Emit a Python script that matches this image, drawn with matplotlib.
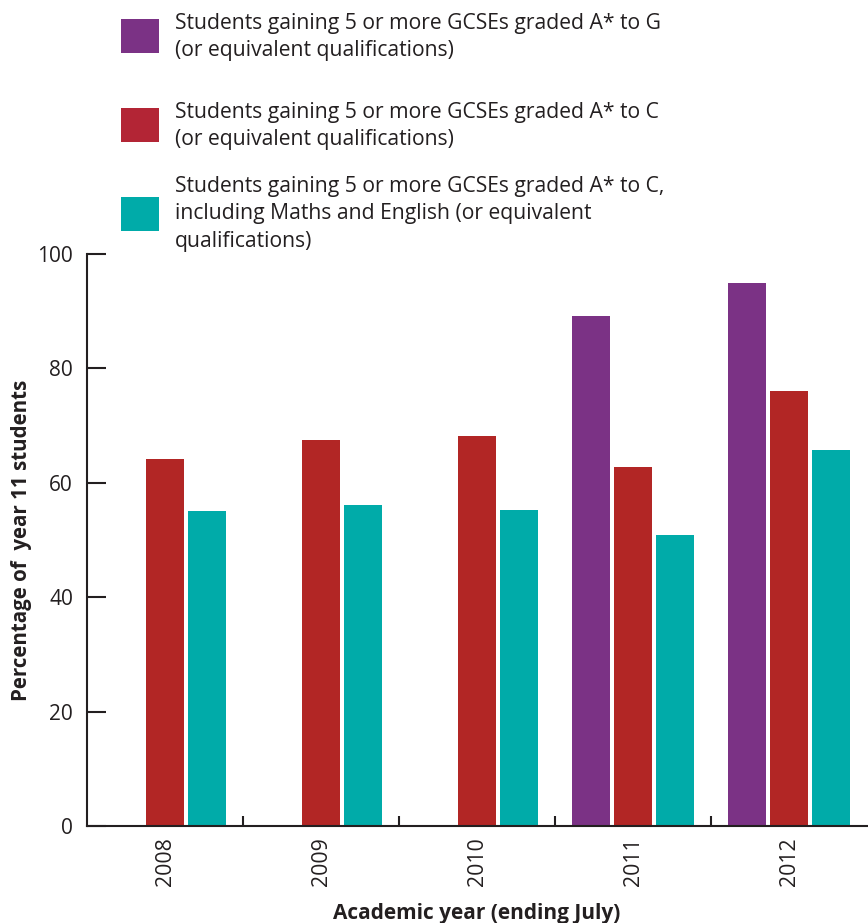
import matplotlib
matplotlib.use("Agg")
import matplotlib.pyplot as plt
import numpy as np
from matplotlib.patches import Rectangle

# Academic years and percentages of year 11 students
years = ["2008", "2009", "2010", "2011", "2012"]
a_star_to_g = [np.nan, np.nan, np.nan, 89.1, 94.9]
a_star_to_c = [64.2, 67.5, 68.2, 62.8, 76.0]
a_star_to_c_maths_english = [55.1, 56.1, 55.2, 50.9, 65.7]

series_labels = [
    "Students gaining 5 or more GCSEs graded A* to G\n(or equivalent qualifications)",
    "Students gaining 5 or more GCSEs graded A* to C\n(or equivalent qualifications)",
    "Students gaining 5 or more GCSEs graded A* to C,\nincluding Maths and English (or equivalent\nqualifications)",
]
colors = ["#7B3285", "#B22625", "#00ABA9"]
legend_colors = ["#7B3285", "#B32535", "#00ABA9"]
y_ticks = [0, 20, 40, 60, 80, 100]

plt.rcParams["font.family"] = ["Open Sans", "DejaVu Sans"]
ink = "#231F20"

fig = plt.figure(figsize=(8.68, 9.23), dpi=100)
W, H = 868, 923
ax = fig.add_axes([87 / W, (H - 826) / H, 780 / W, 572 / H])

x = np.arange(len(years))
bw = 0.244
offset = 0.269
for vals, col, dx in zip([a_star_to_g, a_star_to_c, a_star_to_c_maths_english],
                         colors, [-offset, 0, offset]):
    ax.bar(x + dx, vals, width=bw, color=col, linewidth=0, zorder=2)

ax.set_xlim(-0.5, len(years) - 0.5)
ax.set_ylim(0, 100)
ax.set_yticks(y_ticks)
ax.set_xticks(x)
ax.set_xticklabels(years, rotation=90)
ax.set_xticks(x[:-1] + 0.5, minor=True)

for side in ["top", "right"]:
    ax.spines[side].set_visible(False)
for side in ["left", "bottom"]:
    ax.spines[side].set_color(ink)
    ax.spines[side].set_linewidth(1.5)
    ax.spines[side].set_zorder(3)

ax.tick_params(axis="y", direction="in", length=13.5, width=1.5, color=ink,
               labelsize=15, labelcolor=ink, pad=10)
ax.tick_params(axis="x", which="major", length=0, labelsize=15.3,
               labelcolor=ink, pad=8)
ax.tick_params(axis="x", which="minor", direction="in", length=7.5,
               width=1.5, color=ink)

ax.set_xlabel("Academic year (ending July)", fontsize=15, fontweight="bold",
              color=ink, labelpad=12)
ax.set_ylabel("Percentage of  year 11 students", fontsize=14.8,
              fontweight="bold", color=ink, labelpad=4)

# Legend block above the plot
patch_tops = [19, 108, 197]
for top, col in zip(patch_tops, legend_colors):
    fig.patches.append(Rectangle((121 / W, (H - top - 34) / H), 38 / W, 34 / H,
                                 transform=fig.transFigure, color=col,
                                 linewidth=0))
text_tops = [13, 102, 176]
for top, label in zip(text_tops, series_labels):
    fig.text(175 / W, 1 - top / H, label, fontsize=15.2, color=ink,
             va="top", ha="left", linespacing=1.4)

fig.savefig("out.png", dpi=100)
